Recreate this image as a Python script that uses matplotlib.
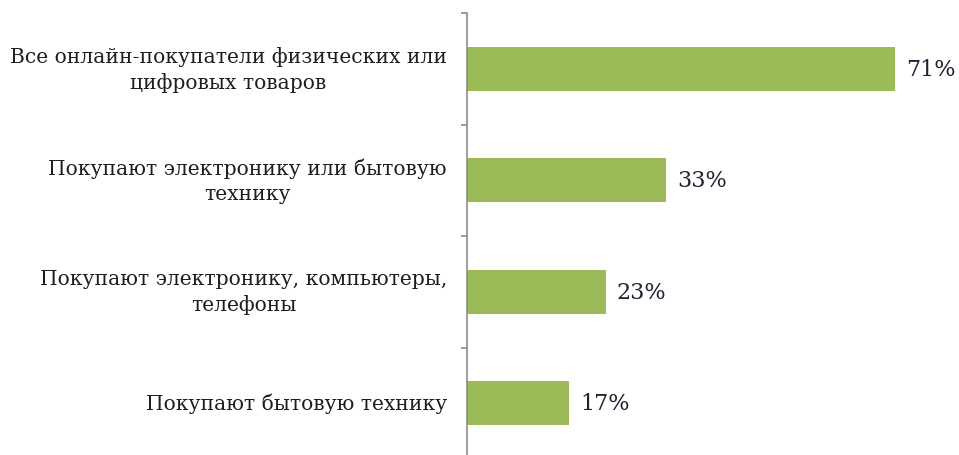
import matplotlib
matplotlib.use("Agg")
import matplotlib.pyplot as plt

categories = [
    "Все онлайн-покупатели физических или\nцифровых товаров",
    "Покупают электронику или бытовую\nтехнику",
    "Покупают электронику, компьютеры,\nтелефоны",
    "Покупают бытовую технику",
]
values = [71, 33, 23, 17]
value_labels = ["71%", "33%", "23%", "17%"]

bar_color = "#9bbb59"
text_color = "#1e1e1e"
value_color = "#1f2230"

fig = plt.figure(figsize=(9.59, 4.56), dpi=100)
ax = fig.add_axes([467 / 959, -4 / 456, 482 / 959, 446 / 456])

pos = list(range(len(categories)))
ax.barh(pos, values, height=0.395, color=bar_color, zorder=2)

ax.set_xlim(0, 80)
ax.set_ylim(3.5, -0.5)

for s in ("top", "right", "bottom"):
    ax.spines[s].set_visible(False)
ax.spines["left"].set_color("#8c8c8c")
ax.spines["left"].set_linewidth(1.2)

ax.set_xticks([])
ax.set_yticks(pos)
ax.set_yticklabels(categories, fontfamily="DejaVu Serif", fontsize=14.6,
                   color=text_color, multialignment="center",
                   linespacing=1.4)
ax.tick_params(axis="y", which="major", length=0, pad=14.4)
for t in ax.get_yticklabels():
    t.set_verticalalignment("center")
ax.set_yticks([p - 0.5 for p in pos] + [len(pos) - 0.5], minor=True)
ax.tick_params(axis="y", which="minor", length=4, width=1.2,
               color="#8c8c8c", direction="out")

for p, v, lab in zip(pos, values, value_labels):
    ax.annotate(lab, xy=(v, p), xytext=(8, 0), textcoords="offset points",
                ha="left", va="center", fontfamily="DejaVu Serif",
                fontsize=16, color=value_color)

fig.savefig("out.png", dpi=100)
